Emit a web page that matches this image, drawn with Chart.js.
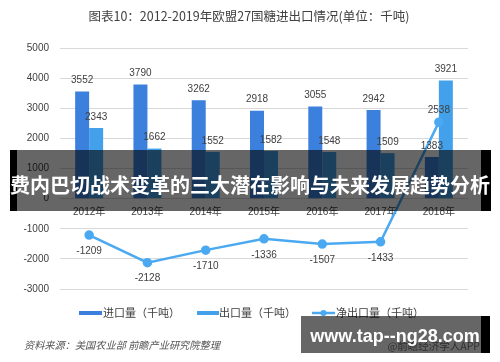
<!DOCTYPE html>
<html>
<head>
<meta charset="utf-8">
<script src="https://cdn.jsdelivr.net/npm/chart.js@4.4.0/dist/chart.umd.min.js"></script>
<style>
html,body{margin:0;padding:0;background:#fff;}
#c{display:block;}
</style>
</head>
<body>
<canvas id="c" width="500" height="362"></canvas>
<script>
const categories = ['2012年','2013年','2014年','2015年','2016年','2017年','2018年'];
const importVals = [3552,3790,3262,2918,3055,2942,1383];
const exportVals = [2343,1662,1552,1582,1548,1509,3921];
const netVals = [-1209,-2128,-1710,-1336,-1507,-1433,2538];
const yTicks = [-3000,-2000,-1000,0,1000,2000,3000,4000,5000];

const titleText = '图表10：2012-2019年欧盟27国糖进出口情况(单位：千吨)';
const seriesNames = ['进口量（千吨）','出口量（千吨）','净出口量（千吨）'];
const sourceText = '资料来源：美国农业部 前瞻产业研究院整理';
const bannerText = '费内巴切战术变革的三大潜在影响与未来发展趋势分析';
const siteText = 'www.tap--ng28.com';
const appText = '@前瞻经济学人APP';

const C_IMP = '#3a80dc';
const C_EXP = '#42a1ea';
const C_NET = '#4aa9f0';
const NUMFONT = '"Liberation Sans","Noto Sans CJK SC",sans-serif';
const CJK = '"Noto Sans CJK SC",sans-serif';

const extras = {
  id: 'extras',
  afterDatasetsDraw(chart) {
    const ctx = chart.ctx;
    ctx.save();
    ctx.font = '10px ' + NUMFONT;
    ctx.fillStyle = '#404040';
    ctx.textAlign = 'center';
    ctx.textBaseline = 'middle';
    [0,1].forEach(di => {
      const meta = chart.getDatasetMeta(di);
      meta.data.forEach((el, i) => {
        ctx.fillText(String(chart.data.datasets[di].data[i]), el.x, el.y - 11);
      });
    });
    const lm = chart.getDatasetMeta(2);
    lm.data.forEach((el, i) => {
      const v = netVals[i];
      ctx.fillText(String(v), el.x, v > 0 ? el.y - 12 : el.y + 16);
    });
    ctx.restore();
  },
  afterDraw(chart) {
    const ctx = chart.ctx;
    ctx.save();
    // title
    ctx.font = '12.5px ' + CJK;
    ctx.fillStyle = '#404040';
    ctx.textAlign = 'center';
    ctx.textBaseline = 'middle';
    ctx.fillText(titleText, 249, 16);
    // legend
    const ly = 313;
    ctx.font = '11px ' + CJK;
    ctx.textAlign = 'left';
    ctx.fillStyle = C_IMP; ctx.fillRect(79, ly - 2, 23, 4);
    ctx.fillStyle = '#404040'; ctx.fillText(seriesNames[0], 103, ly);
    ctx.fillStyle = C_EXP; ctx.fillRect(197, ly - 2, 22, 4);
    ctx.fillStyle = '#404040'; ctx.fillText(seriesNames[1], 219, ly);
    ctx.strokeStyle = C_NET; ctx.lineWidth = 2.5;
    ctx.beginPath(); ctx.moveTo(312, ly); ctx.lineTo(335, ly); ctx.stroke();
    ctx.fillStyle = C_NET; ctx.beginPath(); ctx.arc(323.5, ly, 3, 0, Math.PI*2); ctx.fill();
    ctx.fillStyle = '#404040'; ctx.fillText(seriesNames[2], 336, ly);
    // source
    ctx.font = 'italic 10.2px ' + CJK;
    ctx.fillStyle = '#555';
    ctx.fillText(sourceText, 24, 345);
    // banner
    ctx.fillStyle = 'rgba(0,0,0,0.6)';
    ctx.fillRect(17, 150, 464, 61);
    ctx.fillStyle = '#000';
    ctx.fillRect(10, 150, 7, 61);
    ctx.fillRect(481, 150, 10, 61);
    ctx.font = 'bold 20px ' + CJK;
    ctx.fillStyle = '#fff';
    ctx.textAlign = 'center';
    ctx.fillText(bannerText, 250, 185);
    // site watermark
    ctx.fillStyle = 'rgba(0,0,0,0.6)';
    ctx.fillRect(301, 316, 180, 37);
    ctx.fillStyle = '#000';
    ctx.fillRect(481, 316, 9, 37);
    ctx.font = '10.5px ' + CJK;
    ctx.fillStyle = '#2e2e2e';
    ctx.textAlign = 'right';
    ctx.fillText(appText, 480, 346);
    ctx.font = 'bold 18px "Liberation Sans",sans-serif';
    ctx.fillStyle = '#fff';
    ctx.textAlign = 'center';
    ctx.textBaseline = 'alphabetic';
    ctx.fillText(siteText, 395, 342);
    ctx.restore();
  }
};

new Chart(document.getElementById('c'), {
  data: {
    labels: categories,
    datasets: [
      { type: 'bar', label: seriesNames[0], data: importVals, backgroundColor: C_IMP, order: 2,
        categoryPercentage: 0.48, barPercentage: 1.0 },
      { type: 'bar', label: seriesNames[1], data: exportVals, backgroundColor: C_EXP, order: 2,
        categoryPercentage: 0.48, barPercentage: 1.0 },
      { type: 'line', label: seriesNames[2], data: netVals, borderColor: C_NET, backgroundColor: C_NET,
        borderWidth: 2.5, pointRadius: 3.5, pointHoverRadius: 3.5, tension: 0, order: 0 }
    ]
  },
  options: {
    responsive: false,
    animation: false,
    devicePixelRatio: 1,
    layout: { padding: { left: 0, right: 32, top: 48, bottom: 73 } },
    plugins: { legend: { display: false }, title: { display: false }, tooltip: { enabled: false } },
    scales: {
      x: {
        position: { y: 0 },
        grid: { display: false, drawTicks: false },
        border: { display: false },
        ticks: { color: '#404040', font: { size: 10, family: NUMFONT }, padding: 8 }
      },
      y: {
        min: -3000, max: 5000,
        afterBuildTicks(scale) { scale.ticks = yTicks.map(v => ({ value: v })); },
        afterFit(scale) { scale.width = 60; },
        grid: { color: '#d9d9d9', lineWidth: 1, drawTicks: false },
        border: { display: false },
        ticks: { color: '#404040', font: { size: 10, family: NUMFONT }, padding: 11,
          callback: (v) => String(v) }
      }
    }
  },
  plugins: [extras]
});
</script>
</body>
</html>
